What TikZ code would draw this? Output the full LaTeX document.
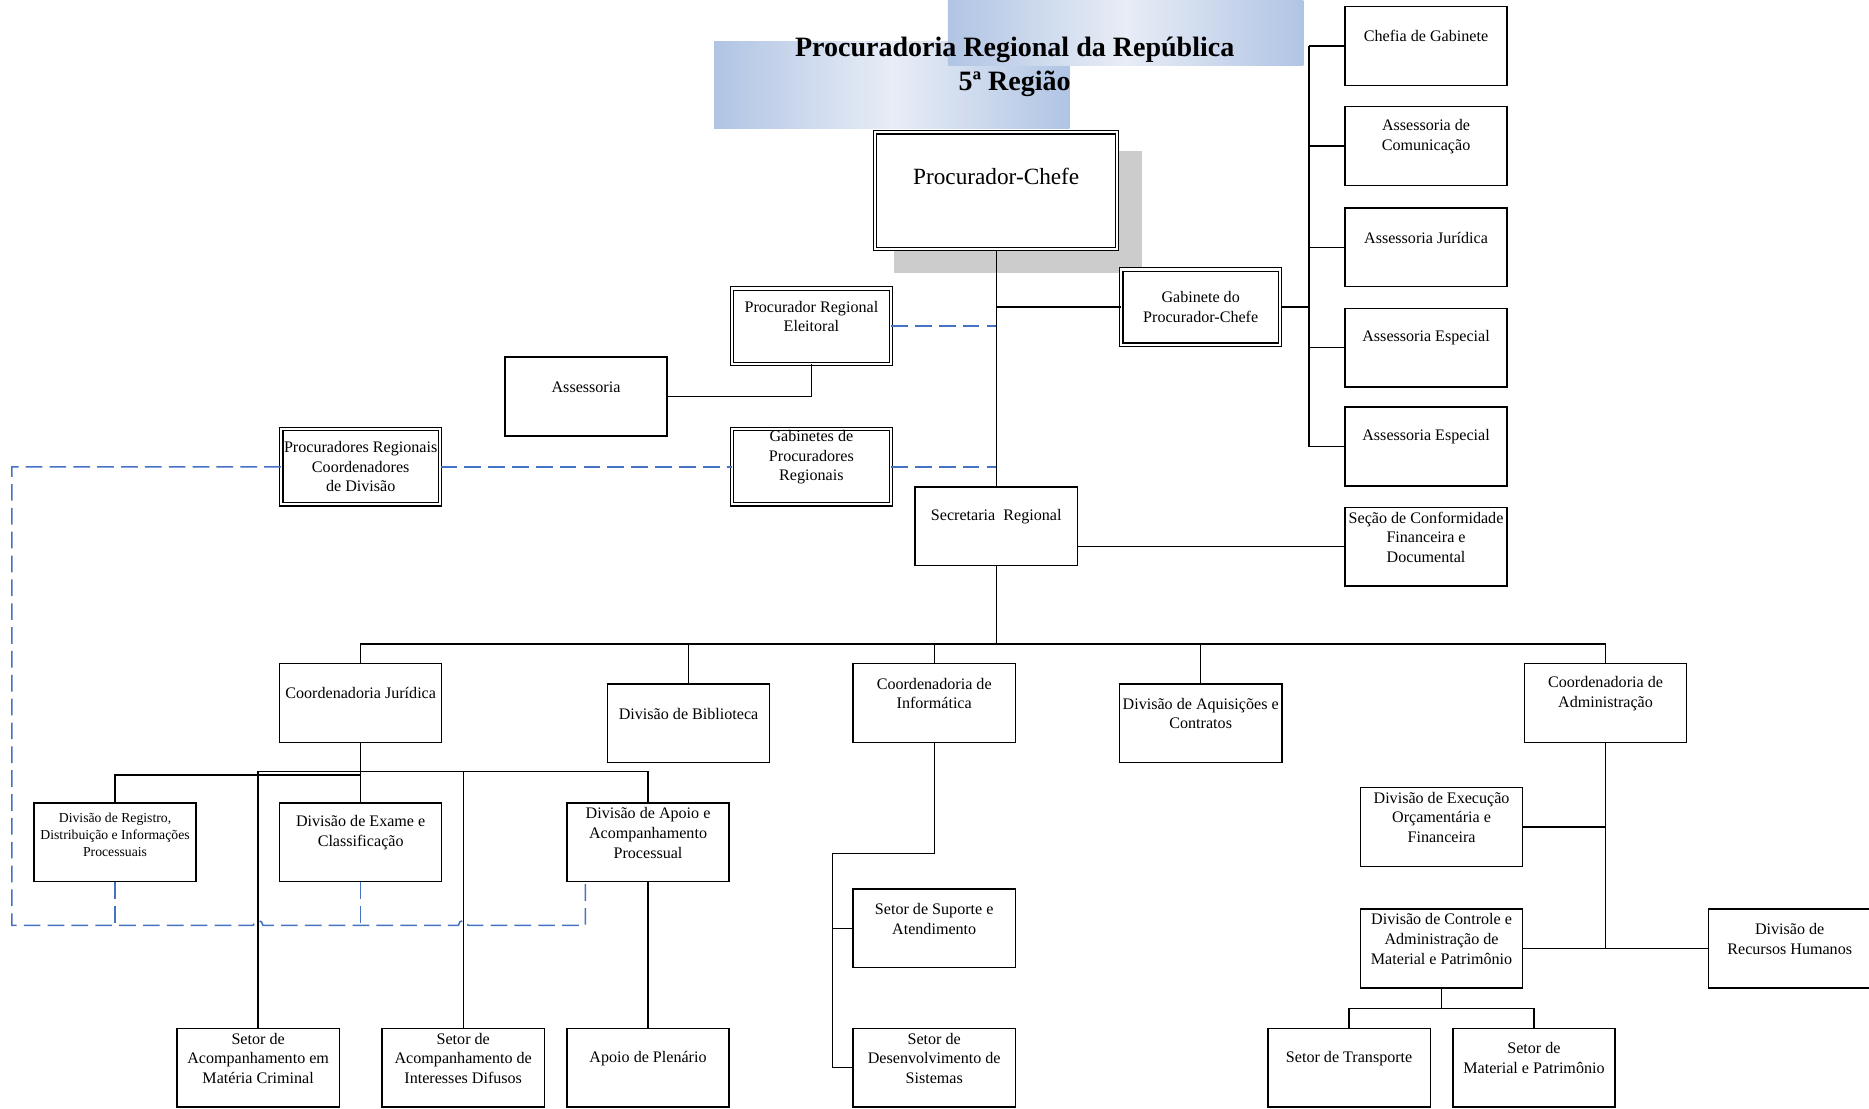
\documentclass[tikz,border=0pt]{standalone}
\usepackage{fontspec}
\setmainfont{Liberation Serif}
\usetikzlibrary{calc}
\definecolor{dblue}{RGB}{68,114,196}
\definecolor{gblue}{RGB}{176,196,228}
\definecolor{glight}{RGB}{232,237,246}
\definecolor{shgray}{RGB}{204,204,204}
\begin{document}
\begin{tikzpicture}[x=1pt,y=-1pt,
  box/.style={draw, line width=1.2pt, fill=white, minimum width=136pt, minimum height=66pt, inner sep=0pt},
  dbox/.style={draw, fill=white, double, double distance=1.8pt, line width=0.9pt, minimum width=133pt, minimum height=63pt, inner sep=0pt},
  lbl/.style={align=center, font=\fontsize{13.5}{16.5}\selectfont, inner sep=0pt},
  lbls/.style={align=center, font=\fontsize{11.5}{14.5}\selectfont, inner sep=0pt},
  tx/.style={label={[lbl,yshift=8pt]center:#1}},
  conn/.style={draw, line width=1.2pt},
  dsh/.style={draw=dblue, line width=1.3pt, dash pattern=on 14pt off 6pt}
]
\useasboundingbox (0,0) rectangle (1567.5,930);

% title background
\shade[left color=gblue, right color=gblue, middle color=glight] (599,35) rectangle (897,108);
\shade[left color=gblue, right color=gblue, middle color=glight] (795,0) rectangle (1093,55);
\node[align=center, inner sep=0pt, font=\bfseries\fontsize{23.5}{28}\selectfont] (title) at (851,56)
  {Procuradoria Regional da República\\5ª Região};

% shadow of Procurador-Chefe
\fill[shgray] (750,127) rectangle (958,229);

% top
\node[dbox, minimum width=203pt, minimum height=98pt,
  label={[lbl,font=\fontsize{19.5}{22}\selectfont,yshift=12pt]center:Procurador-Chefe}] (pc) at (835.5,160) {};
\node[dbox, label={[lbl]center:Gabinete do\\Procurador-Chefe}] (gabpc) at (1007,257.5) {};

% right column
\node[box, tx={Chefia de Gabinete}] (chefia) at (1196,38.5) {};
\node[box, tx={Assessoria de\\Comunicação}] (comunic) at (1196,122.5) {};
\node[box, tx={Assessoria Jurídica}] (asjur) at (1196,207.5) {};
\node[box, tx={Assessoria Especial}] (esp1) at (1196,291.5) {};
\node[box, tx={Assessoria Especial}] (esp2) at (1196,374.5) {};
\node[box, tx={Seção de Conformidade\\Financeira e\\Documental}] (conform) at (1196,458.5) {};

% middle left
\node[dbox, tx={Procurador Regional\\Eleitoral}] (pre) at (680.5,273.5) {};
\node[box, tx={Assessoria}] (assess) at (491.5,332.5) {};
\node[dbox, tx={Gabinetes de\\Procuradores\\Regionais}] (gabpr) at (680.5,391.5) {};
\node[dbox, label={[lbl]center:Procuradores Regionais\\Coordenadores\\de Divisão}] (prc) at (302.5,391.5) {};

\node[box, tx={Secretaria~~Regional}] (secr) at (835.5,441.5) {};

% level 2
\node[box, tx={Coordenadoria Jurídica}] (cjur) at (302.5,589.5) {};
\node[box, tx={Divisão de Biblioteca}] (bibl) at (577.5,606.5) {};
\node[box, tx={Coordenadoria de\\Informática}] (cinf) at (783.5,589.5) {};
\node[box, tx={Divisão de Aquisições e\\Contratos}] (aquis) at (1007,606.5) {};
\node[box, tx={Coordenadoria de\\Administração}] (cadm) at (1346.5,589.5) {};

% under Coordenadoria Jurídica
\node[box, label={[lbls,yshift=6.5pt]center:Divisão de Registro,\\Distribuição e Informações\\Processuais}] (regis) at (96.5,706.5) {};
\node[box, tx={Divisão de Exame e\\Classificação}] (exame) at (302.5,706.5) {};
\node[box, tx={Divisão de Apoio e\\Acompanhamento\\Processual}] (apoio) at (543.5,706.5) {};
\node[box, tx={Setor de\\Acompanhamento em\\Matéria Criminal}] (crim) at (216.5,895.5) {};
\node[box, tx={Setor de\\Acompanhamento de\\Interesses Difusos}] (difus) at (388.5,895.5) {};
\node[box, tx={Apoio de Plenário}] (plen) at (543.5,895.5) {};

% under Informática
\node[box, tx={Setor de Suporte e\\Atendimento}] (suporte) at (783.5,778.5) {};
\node[box, tx={Setor de\\Desenvolvimento de\\Sistemas}] (desenv) at (783.5,895.5) {};

% under Administração
\node[box, tx={Divisão de Execução\\Orçamentária e\\Financeira}] (exec) at (1209,693.5) {};
\node[box, tx={Divisão de Controle e\\Administração de\\Material e Patrimônio}] (contr) at (1209,795.5) {};
\node[box, minimum width=142pt, label={[lbl,yshift=8pt,xshift=-3pt]center:Divisão de\\Recursos Humanos}] (rh) at (1504,795.5) {};
\node[box, tx={Setor de Transporte}] (transp) at (1131.5,895.5) {};
\node[box, tx={Setor de\\Material e Patrimônio}] (mater) at (1286.5,895.5) {};

% coordinates of buses
\coordinate (gbus) at (1098,257.5);
\coordinate (mbus) at (835.5,540);
\coordinate (jb1) at (302.5,650);
\coordinate (jb2) at (302.5,647);
\coordinate (ib) at (698,716);
\coordinate (cb) at (1209,846);
\coordinate (dl) at (10,776);
\coordinate (dr) at (491,776);

% connectors
\draw[conn] (pc.south) -- (secr.north);
\draw[conn] (gabpc.west) -- (gabpc.west -| pc.south);
\draw[conn] (gabpc.east) -- (gbus);
\draw[conn] (chefia.west -| gbus) -- (esp2.west -| gbus);
\foreach \n in {chefia,comunic,asjur,esp1,esp2}{\draw[conn] (\n.west) -- (\n.west -| gbus);}
\draw[conn] (conform.west) -- (conform.west -| secr.east);
\draw[conn] (assess.east) -| (pre.south);

\draw[conn] (secr.south) -- (mbus);
\draw[conn] (cjur.north) |- (mbus) -| (cadm.north);
\draw[conn] (bibl.north) -- (bibl.north |- mbus);
\draw[conn] (cinf.north) -- (cinf.north |- mbus);
\draw[conn] (aquis.north) -- (aquis.north |- mbus);

\draw[conn] (cjur.south) -- (exame.north);
\draw[conn] (regis.north) |- (jb1);
\draw[conn] (crim.north) |- (jb2) -| (apoio.north);
\draw[conn] (difus.north) -- (difus.north |- jb2);
\draw[conn] (apoio.south) -- (plen.north);

\draw[conn] (cinf.south) |- (ib) |- (desenv.west);
\draw[conn] (suporte.west) -- (suporte.west -| ib);

\draw[conn] (cadm.south) -- (cadm.south |- contr.east);
\draw[conn] (exec.east) -- (exec.east -| cadm.south);
\draw[conn] (contr.east) -- (rh.west);
\draw[conn] (contr.south) -- (cb);
\draw[conn] (transp.north) |- (cb) -| (mater.north);

% dashed links
\draw[dsh] (pre.east) -- (pre.east -| pc.south);
\draw[dsh] (gabpr.east) -- (gabpr.east -| pc.south);
\draw[dsh] (prc.east) -- (gabpr.west);
\draw[dsh] (prc.west) -- (prc.west -| dl) -- (dl) -- (212.5,776)
  arc[start angle=180, end angle=0, radius=4pt] -- (384.5,776)
  arc[start angle=180, end angle=0, radius=4pt] -- (dr) -- (dr |- apoio.south);
\draw[dsh] (regis.south) -- (regis.south |- dr);
\draw[dsh] (exame.south) -- (exame.south |- dr);
\end{tikzpicture}
\end{document}
